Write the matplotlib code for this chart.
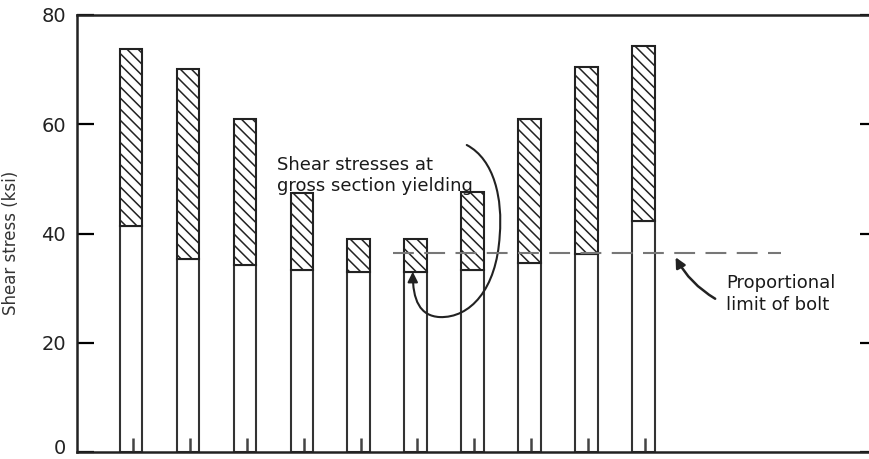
import numpy as np
import matplotlib.pyplot as plt
import matplotlib.transforms as mtransforms
from matplotlib.patches import FancyArrowPatch
from matplotlib.path import Path

# shear stress at proportional limit of bolt (white part) and at gross section yielding (top)
prop_limit = [41.4, 35.3, 34.2, 33.3, 33.0, 33.0, 33.3, 34.6, 36.3, 42.3]
gross_yield = [73.8, 70.1, 61.0, 47.4, 39.0, 39.0, 47.6, 61.0, 70.5, 74.4]
bolt_limit = 36.4
yticks = [0, 20, 40, 60, 80]

plt.rcParams['font.family'] = ['DejaVu Sans']
plt.rcParams['hatch.linewidth'] = 1.1
plt.rcParams['hatch.color'] = '#333333'

fig = plt.figure(figsize=(8.69, 4.59), dpi=100)
ax = fig.add_axes([77 / 869, 7 / 459, 800 / 869, 437 / 459])

x = np.arange(len(prop_limit))
lower = np.array(prop_limit)
upper = np.array(gross_yield) - lower
ax.bar(x, lower, width=0.4, color='white', edgecolor='#333333', linewidth=1.5)
ax.bar(x, upper, bottom=lower, width=0.4, color='white', edgecolor='#222222',
       linewidth=1.5, hatch='\\\\\\')
ax.vlines(x + 0.03, 0, 2.6, color='#444444', linewidth=1.8)

ax.plot([4.6, 11.42], [bolt_limit, bolt_limit], color='#777777', linewidth=1.5,
        dashes=(10, 5))

ax.set_xlim(-0.95, 13.1)
ax.set_ylim(0, 80)
ax.set_xticks([])
ax.set_yticks(yticks)
ax.tick_params(axis='y', direction='in', length=12, width=1.6, labelsize=14,
               pad=8, right=True, labelcolor='#222222')
for s in ax.spines.values():
    s.set_linewidth(1.8)
    s.set_color('#222222')
ax.set_ylabel('Shear stress (ksi)', fontsize=12, color='#333333')
ax.yaxis.set_label_coords(-0.071, 0.478)

# the "0" label sits on the figure's bottom edge; nudge it up a little so it stays visible
zero = ax.get_yticklabels()[0]
zero.set_transform(zero.get_transform() +
                   mtransforms.ScaledTranslation(0, 6 / 100, fig.dpi_scale_trans))

txt = dict(fontsize=13, color='#1a1a1a', va='center', ha='left')
ax.text(2.56, 52.6, 'Shear stresses at', **txt)
ax.text(2.56, 48.7, 'gross section yielding', **txt)
ax.text(10.45, 31.0, 'Proportional', **txt)
ax.text(10.45, 26.9, 'limit of bolt', **txt)

loop = Path([(5.895, 56.2), (6.386, 53.5), (6.526, 46.2), (6.474, 39.7),
             (6.421, 29.7), (5.947, 24.5), (5.421, 24.7),
             (5.070, 24.9), (4.947, 27.8), (4.947, 33.0)],
            [Path.MOVETO] + [Path.CURVE4] * 9)
ax.add_patch(FancyArrowPatch(path=loop, arrowstyle='-|>,head_length=6,head_width=3',
                             color='#222222', linewidth=1.5))
ax.add_patch(FancyArrowPatch((10.30, 27.8), (9.54, 36.1), connectionstyle='arc3,rad=-0.15',
                             arrowstyle='-|>,head_length=6,head_width=3',
                             color='#222222', linewidth=1.8))

fig.savefig('out.png', dpi=100)
